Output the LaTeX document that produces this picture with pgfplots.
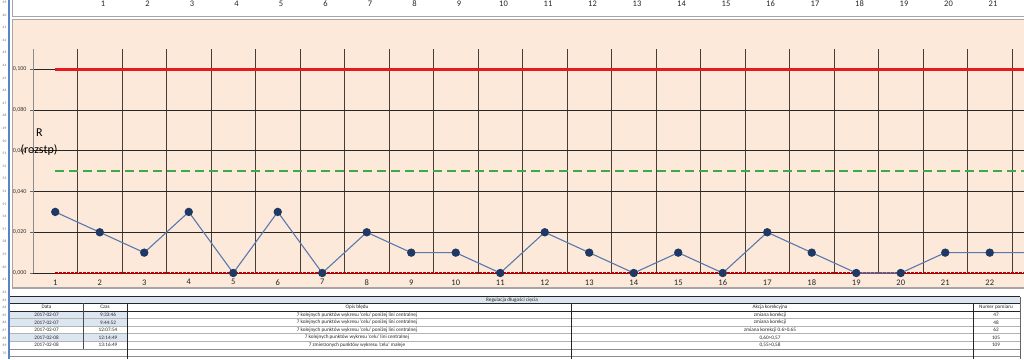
\documentclass[border=0pt]{standalone}
\usepackage{pgfplots}
\pgfplotsset{compat=1.18}
\usepackage{fontspec}
\setmainfont{Carlito}
\definecolor{peach}{HTML}{FDE9D9}
\definecolor{tblue}{HTML}{DCE6F1}
\definecolor{navy}{HTML}{1F3864}
\definecolor{linecol}{HTML}{5879AE}
\definecolor{uclred}{RGB}{230,25,35}
\definecolor{clgreen}{RGB}{60,170,75}
\definecolor{lclred}{HTML}{C00000}
\definecolor{xlblue}{RGB}{90,130,200}
\definecolor{vgrid}{RGB}{70,62,52}
\begin{document}
\begin{tikzpicture}
\useasboundingbox (0pt,0pt) rectangle (1024pt,-359pt);
\begin{scope}[x=1pt,y=-1pt]
  \fill[white] (0,0) rectangle (1024,359);
  % previous chart strip
  \foreach \k in {1,...,21} {
    \node[font=\fontsize{8.5}{9}\selectfont, anchor=base, inner sep=0pt, text=black!85] at ({103+44.5*(\k-1)},6) {\k};
  }
  \draw[black!35, line width=1.2pt] (12.5,0) -- (12.5,16.5) -- (1024,16.5);
  % chart area
  \fill[peach] (13,20) rectangle (1024,288);
  \draw[black!35, line width=1.2pt] (1024,19.5) -- (12.5,19.5) -- (12.5,288) -- (1024,288);
\end{scope}
\begin{axis}[
  at={(33pt,-273pt)}, anchor=south west,
  scale only axis, width=991pt, height=224pt,
  xmin=0.5, xmax=22.77, ymin=0, ymax=0.11,
  clip=false,
  axis x line*=bottom, axis y line*=left,
  x axis line style={-, draw=black!85, line width=0.8pt},
  y axis line style={-, draw=black!45, line width=1pt},
  xtick={1,...,22},
  minor xtick={1.5,2.5,...,22.5},
  xminorgrids,
  minor x grid style={draw=vgrid, line width=0.75pt},
  ytick={0,0.02,0.04,0.06,0.08,0.1},
  ymajorgrids,
  major y grid style={draw=black!85, line width=0.7pt},
  major x tick style={draw=none},
  minor x tick style={draw=none},
  y tick style={draw=black!60, line width=0.8pt},
  tick align=outside, major tick length=3pt,
  scaled y ticks=false,
  /pgf/number format/assume math mode=true,
  yticklabel style={font=\fontsize{6}{6}\selectfont, text=black!80, /pgf/number format/.cd, fixed, fixed zerofill, precision=3, use comma, assume math mode=true},
  xticklabel style={font=\fontsize{8.5}{9}\selectfont, text=black!85},
]
\addplot[draw=uclred, line width=2.6pt] coordinates {(1,0.1) (23.6,0.1)};
\addplot[draw=clgreen, line width=1.4pt, dash pattern=on 9pt off 5pt] coordinates {(1,0.05) (23.6,0.05)};
\addplot[draw=lclred, line width=1.2pt, dash pattern=on 2.5pt off 1.5pt] coordinates {(1,0) (23.6,0)};
\addplot[draw=linecol, line width=1.1pt, mark=*, mark size=3.6pt, mark options={fill=navy, draw=navy, solid}] coordinates {
(1,0.03) (2,0.02) (3,0.01) (4,0.03) (5,0) (6,0.03) (7,0) (8,0.02) (9,0.01) (10,0.01)
(11,0) (12,0.02) (13,0.01) (14,0) (15,0.01) (16,0) (17,0.02) (18,0.01) (19,0) (20,0)
(21,0.01) (22,0.01) (23,0.01)};
\end{axis}
\begin{scope}[x=1pt,y=-1pt]
  \node[font=\fontsize{12}{12}\selectfont, inner sep=0pt] at (39.5,133) {R};
  \node[font=\fontsize{12}{12}\selectfont, inner sep=0pt] at (39,150) {(rozstp)};
  % blue excel line
  \draw[xlblue, line width=1.4pt] (9,0) -- (9,359);
  % row numbers
  \foreach \r in {39,...,61} {
    \node[font=\fontsize{3.5}{4}\selectfont, text=black!60, inner sep=0pt] at (4.5,{2.4+12.6*(\r-39)}) {\r};
  }
  \node[font=\fontsize{3.5}{4}\selectfont, text=black!60, inner sep=0pt] at (4.5,292) {62};
  \foreach \r in {63,...,70} {
    \node[font=\fontsize{3.5}{4}\selectfont, text=black!60, inner sep=0pt] at (4.5,{300+7.6*(\r-63)}) {\r};
  }
  % table
  \fill[tblue] (10,297) rectangle (1020,303);
  \fill[tblue] (10,311) rectangle (127,318.6);
  \fill[tblue] (10,318.6) rectangle (127,326.2);
  \fill[tblue] (10,333.8) rectangle (127,341.4);
  \draw[black!85, line width=0.9pt] (10,296.8) -- (1020,296.8);
  \draw[black!85, line width=0.9pt] (10,303.3) -- (1020,303.3);
  \draw[black!85, line width=0.9pt] (10,311) -- (1020,311);
  \foreach \yy in {318.6,326.2,333.8,341.4} {
    \draw[black!30, line width=1.2pt] (10,\yy) -- (1020,\yy);
  }
  \draw[black!45, line width=0.8pt] (10,349) -- (1020,349);
  \draw[black!45, line width=0.8pt] (10,356.6) -- (1020,356.6);
  \draw[black!70, line width=0.8pt] (83,303.3) -- (83,349);
  \draw[black!85, line width=0.9pt] (127,303.3) -- (127,359);
  \draw[black!85, line width=0.9pt] (571,303.3) -- (571,359);
  \draw[black!85, line width=0.9pt] (973,303.3) -- (973,359);
  \draw[black!60, line width=0.8pt] (1020,296.8) -- (1020,359);
  \begin{scope}[every node/.style={font=\fontsize{5.2}{6}\selectfont, text=black!85, inner sep=0pt}]
    \node at (512,300) {Regulacja długości cięcia};
    \node at (46.5,307.2) {Data};
    \node at (105,307.2) {Czas};
    \node at (357,307.2) {Opis błędu};
    \node at (770,307.2) {Akcja korekcyjna};
    \node at (996,307.2) {Numer pomiaru};
    \node at (46.5,314.8) {2017-02-07};
    \node at (46.5,322.4) {2017-02-07};
    \node at (46.5,330) {2017-02-07};
    \node at (46.5,337.6) {2017-02-08};
    \node at (46.5,345.2) {2017-02-08};
    \node at (108,314.8) {9:33:46};
    \node at (108,322.4) {9:44:52};
    \node at (108,330) {12:07:54};
    \node at (108,337.6) {12:14:49};
    \node at (108,345.2) {13:16:49};
    \node at (357,314.8) {7 kolejnych punktów wykresu 'celu' poniżej lini centralnej};
    \node at (357,322.4) {7 kolejnych punktów wykresu 'celu' poniżej lini centralnej};
    \node at (357,330) {7 kolejnych punktów wykresu 'celu' poniżej lini centralnej};
    \node at (357,337.6) {7 kolejnych punktów wykresu 'celu' lini centralnej};
    \node at (357,345.2) {7 zmierzonych punktów wykresu 'celu' maleje};
    \node at (770,314.8) {zmiana korekcji};
    \node at (770,322.4) {zmiana korekcji};
    \node at (770,330) {zmiana korekcji 0.6>0.65};
    \node at (770,337.6) {0,60>0,57};
    \node at (770,345.2) {0,55>0,58};
    \node at (996,314.8) {47};
    \node at (996,322.4) {48};
    \node at (996,330) {62};
    \node at (996,337.6) {105};
    \node at (996,345.2) {109};
  \end{scope}
\end{scope}
\end{tikzpicture}
\end{document}
